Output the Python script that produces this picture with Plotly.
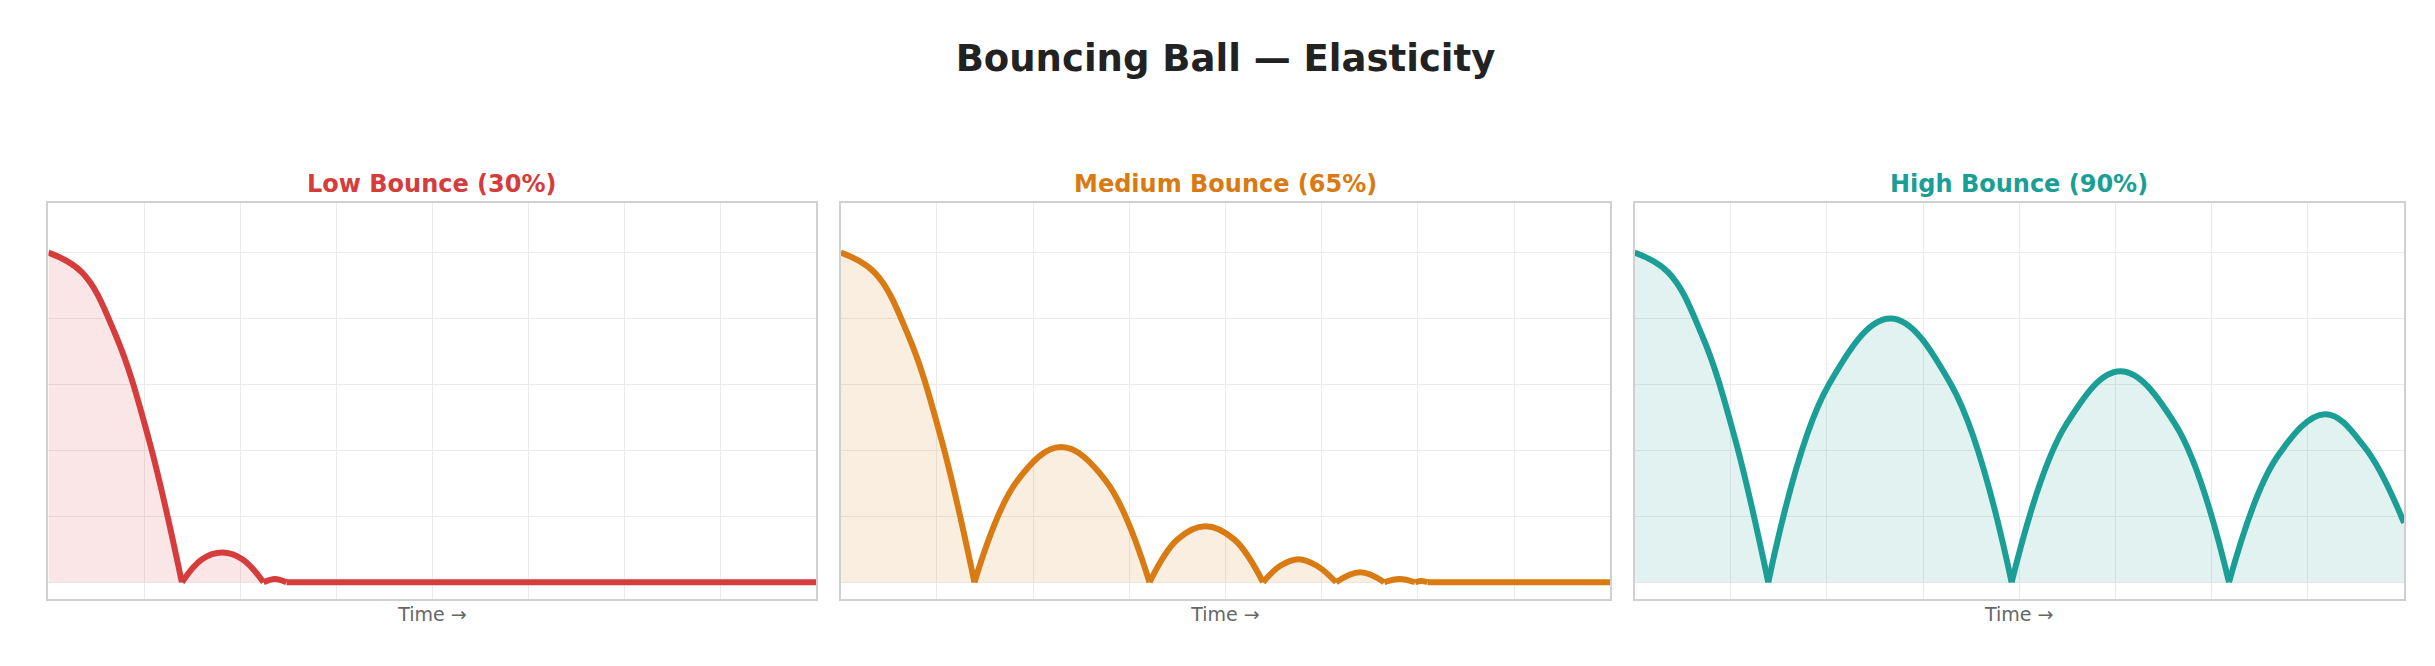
import plotly.graph_objects as go
from plotly.subplots import make_subplots

TITLES = ["Low Bounce (30%)", "Medium Bounce (65%)", "High Bounce (90%)"]
COLORS = ["#d63c3c", "#d97a12", "#1a9e95"]
FILLS = ["rgba(214,60,60,0.13)", "rgba(217,122,18,0.13)", "rgba(26,158,149,0.13)"]

# each arc: times and heights (impact -> peak -> impact)
low_t = [[0, 0.35, 0.70, 1.04, 1.39], [1.39, 1.60, 1.81, 2.02, 2.24],
         [2.24, 2.36, 2.48], [2.48, 8.0]]
low_h = [[1.0, 0.94, 0.75, 0.44, 0], [0, 0.07, 0.09, 0.07, 0],
         [0, 0.01, 0], [0, 0]]

med_t = [[0, 0.35, 0.70, 1.04, 1.39], [1.39, 1.84, 2.29, 2.75, 3.21],
         [3.21, 3.50, 3.79, 4.09, 4.39], [4.39, 4.57, 4.76, 4.95, 5.15],
         [5.15, 5.40, 5.65], [5.65, 5.81, 5.97], [5.97, 6.04, 6.10], [6.10, 8.0]]
med_h = [[1.0, 0.94, 0.75, 0.44, 0], [0, 0.31, 0.41, 0.31, 0],
         [0, 0.13, 0.17, 0.13, 0], [0, 0.05, 0.07, 0.05, 0],
         [0, 0.03, 0], [0, 0.01, 0], [0, 0.004, 0], [0, 0]]

high_t = [[0, 0.35, 0.70, 1.04, 1.39], [1.39, 2.02, 2.66, 3.29, 3.92],
          [3.92, 4.49, 5.05, 5.62, 6.18], [6.18, 6.68, 7.18, 7.59, 8.0]]
high_h = [[1.0, 0.94, 0.75, 0.44, 0], [0, 0.60, 0.80, 0.60, 0],
          [0, 0.48, 0.64, 0.48, 0], [0, 0.38, 0.51, 0.41, 0.18]]

PANELS = [(low_t, low_h), (med_t, med_h), (high_t, high_h)]

fig = make_subplots(rows=1, cols=3)
doms = [[0.0166, 0.332], [0.342, 0.658], [0.668, 0.984]]
for i, (ts, hs) in enumerate(PANELS):
    for t, h in zip(ts, hs):
        fig.add_trace(go.Scatter(
            x=t, y=h, mode="lines",
            line=dict(color=COLORS[i], width=6, shape="spline", smoothing=1.1),
            fill="tozeroy", fillcolor=FILLS[i], showlegend=False, hoverinfo="skip"),
            row=1, col=i + 1)
    ax = "" if i == 0 else str(i + 1)
    fig.layout["xaxis" + ax].update(
        domain=doms[i], range=[0, 8], dtick=1, showticklabels=False, ticks="",
        showgrid=True, gridcolor="#ebebeb", zeroline=False,
        showline=True, mirror=True, linecolor="#d0d0d0", linewidth=1.5,
        title=dict(text="Time →", font=dict(size=19, color="#666"), standoff=8))
    fig.layout["yaxis" + ax].update(
        domain=[0.113, 0.707], range=[-0.05, 1.15], dtick=0.2, showticklabels=False,
        ticks="", showgrid=True, gridcolor="#ebebeb", zeroline=False,
        showline=True, mirror=True, linecolor="#d0d0d0", linewidth=1.5)
    fig.add_annotation(text=f"<b>{TITLES[i]}</b>", x=sum(doms[i]) / 2, y=0.712,
                       xref="paper", yref="paper", xanchor="center", yanchor="bottom",
                       showarrow=False, font=dict(size=24, color=COLORS[i]))

fig.update_layout(
    title=dict(text="<b>Bouncing Ball — Elasticity</b>", x=0.5, y=0.945, xanchor="center",
               font=dict(size=37, color="#222")),
    font=dict(family="DejaVu Sans"),
    plot_bgcolor="white", paper_bgcolor="white",
    margin=dict(l=0, r=0, t=0, b=0), width=2435, height=666,
)
fig.write_html("out.html")
